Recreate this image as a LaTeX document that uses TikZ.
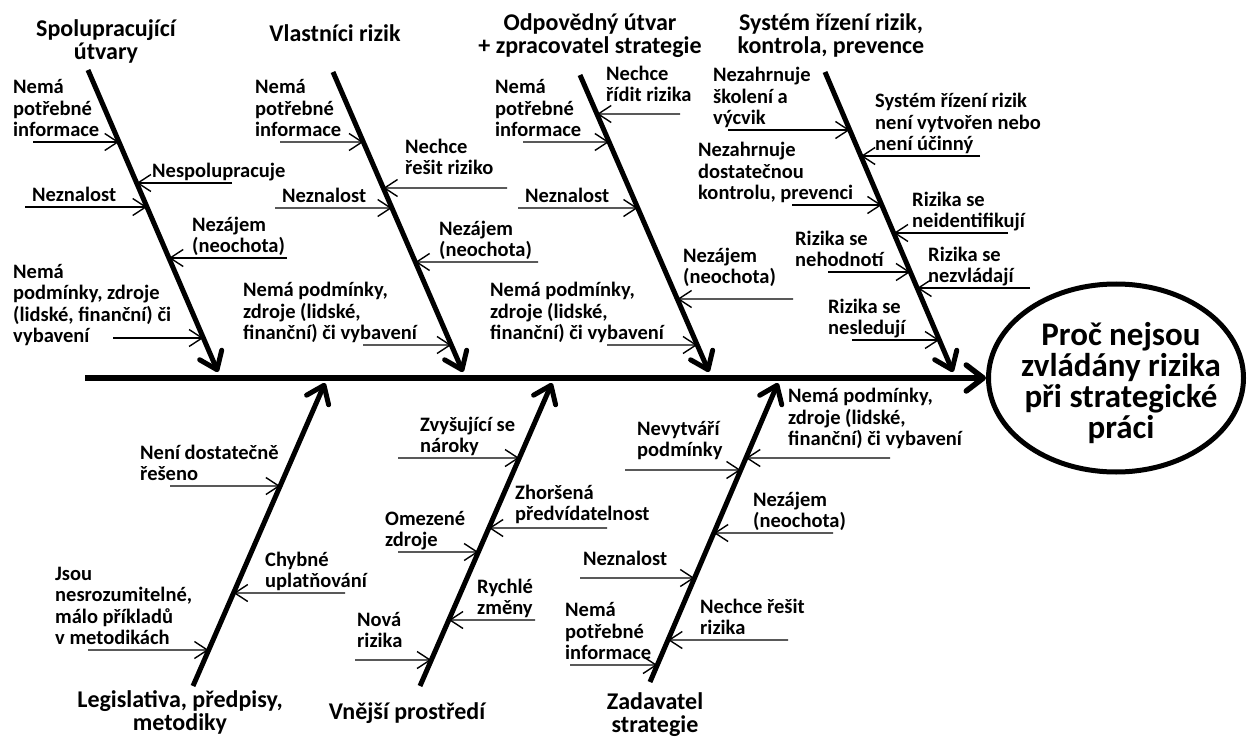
\documentclass[tikz,border=0pt]{standalone}
\usepackage{fontspec}
\setmainfont{Carlito}
\usetikzlibrary{arrows.meta,shapes.geometric}
\newcommand\labfont{\fontsize{20.5}{21.5}\selectfont\bfseries}
\newcommand\headfont{\fontsize{24}{23}\selectfont\bfseries}
\newcommand\titlefont{\fontsize{33}{31}\selectfont\bfseries}
% #1 name, #2 bone, #3 x of free end, #4 y
\newcommand\twig[4]{%
  \coordinate (#1h1) at (0,#4);
  \coordinate (#1h2) at (10,#4);
  \coordinate (#1s) at (#3,#4);
  \coordinate (#1e) at (intersection of #2s--#2e and #1h1--#1h2);
  \draw[twig] (#1s) -- (#1e);}
% #1 name, #2 x, #3 baseline of last line, #4 text
\newcommand\lab[4]{\node[lab] (#1) at (#2,#3+6.45) {#4};}
\newcommand\head[4]{\node[head] (#1) at (#2,#3+6.9) {#4};}
\begin{document}
\begin{tikzpicture}[x=1pt,y=-1pt,
  lab/.style={font=\labfont, align=left, inner sep=0pt, anchor=south west,
    execute at begin node=\strut, execute at end node=\strut},
  head/.style={font=\headfont, align=center, inner sep=0pt, anchor=south,
    execute at begin node=\strut, execute at end node=\strut},
  bone/.style={line width=5pt, -{Straight Barb[round,length=16pt,width=24pt]}},
  twig/.style={line width=1.4pt, -{Straight Barb[length=13pt,width=17pt]}}]
\useasboundingbox (0,0) rectangle (1248,738);

% effect
\node[ellipse, draw, line width=5pt, minimum width=255pt, minimum height=188pt] (eff) at (1116,378) {};
\node[font=\titlefont, align=center, inner sep=0pt] (title) at (1121,383) {Proč nejsou\\zvládány rizika\\při strategické\\práci};

% spine
\coordinate (sp) at (85,378);
\draw[line width=5.5pt, -{Straight Barb[round,length=17pt,width=26pt]}] (sp) -- (eff.west);

% bones
\coordinate (b1s) at (88,70);   \coordinate (b1e) at (218,372);
\coordinate (b2s) at (333,72);  \coordinate (b2e) at (463,372);
\coordinate (b3s) at (580,75);  \coordinate (b3e) at (709,372);
\coordinate (b4s) at (825,72);  \coordinate (b4e) at (953,372);
\coordinate (b5s) at (193,686); \coordinate (b5e) at (325,383);
\coordinate (b6s) at (420,686); \coordinate (b6e) at (552,383);
\coordinate (b7s) at (650,682); \coordinate (b7e) at (778,383);
\foreach \b in {b1,b2,b3,b4,b5,b6,b7} {\draw[bone] (\b s) -- (\b e);}

% headers
\head{h1}{106}{60}{Spolupracující\\útvary}
\head{h2}{335}{42}{Vlastníci rizik}
\head{h3}{590}{54}{Odpovědný útvar\\+ zpracovatel strategie}
\head{h4}{831}{54}{Systém řízení rizik,\\kontrola, prevence}
\head{h5}{180}{731}{Legislativa, předpisy,\\metodiky}
\head{h6}{407}{720}{Vnější prostředí}
\head{h7}{655}{733}{Zadavatel\\strategie}

% bone 1
\lab{t1a}{13}{137}{Nemá\\potřebné\\informace}      \twig{w1a}{b1}{33}{142}
\lab{t1b}{152}{178}{Nespolupracuje}                \twig{w1b}{b1}{232}{183}
\lab{t1c}{32}{202}{Neznalost}                      \twig{w1c}{b1}{25}{207}
\lab{t1d}{192}{253}{Nezájem\\(neochota)}           \twig{w1d}{b1}{287}{258}
\lab{t1e}{13}{343}{Nemá\\podmínky, zdroje\\(lidské, finanční) či\\vybavení} \twig{w1e}{b1}{113}{338}

% bone 2
\lab{t2a}{255}{137}{Nemá\\potřebné\\informace}     \twig{w2a}{b2}{280}{142}
\lab{t2b}{405}{175}{Nechce\\řešit riziko}          \twig{w2b}{b2}{507}{188}
\lab{t2c}{282}{203}{Neznalost}                     \twig{w2c}{b2}{275}{208}
\lab{t2d}{439}{257}{Nezájem\\(neochota)}           \twig{w2d}{b2}{538}{262}
\lab{t2e}{243}{340}{Nemá podmínky,\\zdroje (lidské,\\finanční) či vybavení} \twig{w2e}{b2}{363}{345}

% bone 3
\lab{t3a}{606}{102}{Nechce\\řídit rizika}          \twig{w3a}{b3}{680}{114}
\lab{t3b}{495}{137}{Nemá\\potřebné\\informace}     \twig{w3b}{b3}{523}{142}
\lab{t3c}{525}{203}{Neznalost}                     \twig{w3c}{b3}{518}{208}
\lab{t3d}{683}{284}{Nezájem\\(neochota)}           \twig{w3d}{b3}{793}{299}
\lab{t3e}{490}{340}{Nemá podmínky,\\zdroje (lidské,\\finanční) či vybavení} \twig{w3e}{b3}{607}{345}

% bone 4
\lab{t4a}{713}{125}{Nezahrnuje\\školení a\\výcvik}  \twig{w4a}{b4}{728}{130}
\lab{t4b}{875}{151}{Systém řízení rizik\\není vytvořen nebo\\není účinný} \twig{w4b}{b4}{980}{156}
\lab{t4c}{698}{200}{Nezahrnuje\\dostatečnou\\kontrolu, prevenci} \twig{w4c}{b4}{792}{205}
\lab{t4d}{912}{228}{Rizika se\\neidentifikují}     \twig{w4d}{b4}{1008}{233}
\lab{t4e}{795}{267}{Rizika se\\nehodnotí}          \twig{w4e}{b4}{828}{272}
\lab{t4f}{928}{283}{Rizika se\\nezvládají}         \twig{w4f}{b4}{1030}{288}
\lab{t4g}{828}{335}{Rizika se\\nesledují}          \twig{w4g}{b4}{852}{340}

% bone 5
\lab{t5a}{140}{481}{Není dostatečně\\řešeno}       \twig{w5a}{b5}{170}{486}
\lab{t5b}{265}{588}{Chybné\\uplatňování}           \twig{w5b}{b5}{345}{593}
\lab{t5c}{55}{645}{Jsou\\nesrozumitelné,\\málo příkladů\\v metodikách} \twig{w5c}{b5}{88}{650}

% bone 6
\lab{t6a}{420}{453}{Zvyšující se\\nároky}          \twig{w6a}{b6}{398}{458}
\lab{t6b}{515}{521}{Zhoršená\\předvídatelnost}     \twig{w6b}{b6}{607}{528}
\lab{t6c}{385}{547}{Omezené\\zdroje}               \twig{w6c}{b6}{398}{552}
\lab{t6d}{477}{615}{Rychlé\\změny}                 \twig{w6d}{b6}{535}{620}
\lab{t6e}{357}{648}{Nová\\rizika}                  \twig{w6e}{b6}{355}{660}

% bone 7
\lab{t7a}{788}{446}{Nemá podmínky,\\zdroje (lidské,\\finanční) či vybavení} \twig{w7a}{b7}{890}{458}
\lab{t7b}{637}{457}{Nevytváří\\podmínky}           \twig{w7b}{b7}{625}{470}
\lab{t7c}{753}{528}{Nezájem\\(neochota)}           \twig{w7c}{b7}{833}{533}
\lab{t7d}{583}{566}{Neznalost}                     \twig{w7d}{b7}{580}{578}
\lab{t7e}{700}{635}{Nechce řešit\\rizika}          \twig{w7e}{b7}{788}{640}
\lab{t7f}{565}{660}{Nemá\\potřebné\\informace}     \twig{w7f}{b7}{570}{665}
\end{tikzpicture}
\end{document}
